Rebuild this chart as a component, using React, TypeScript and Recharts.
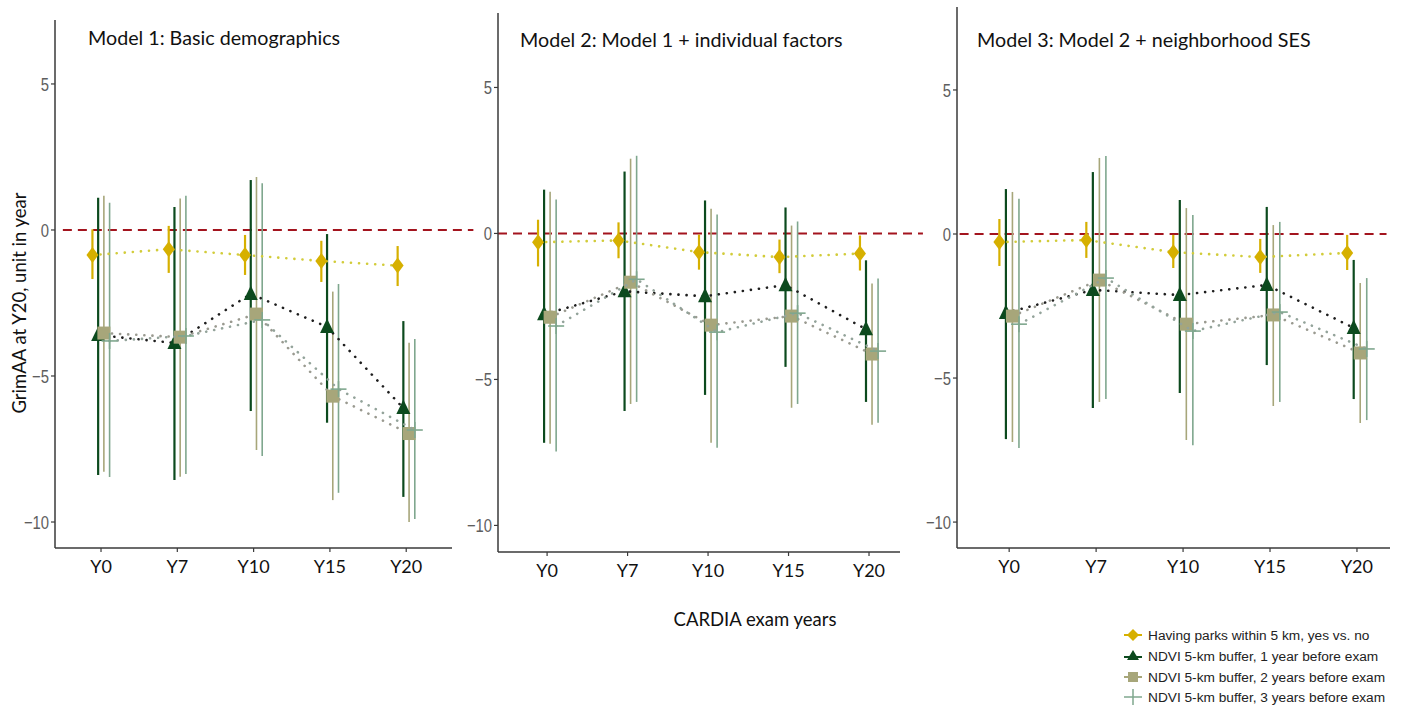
import React from 'react';
import { ComposedChart, XAxis, YAxis, Scatter, ErrorBar, ReferenceLine } from 'recharts';

// ---------- data ----------
const categories = ['Y0', 'Y7', 'Y10', 'Y15', 'Y20'];
const yTicks = [-10, -5, 0, 5];

const seriesNames = [
  'Having parks within 5 km, yes vs. no',
  'NDVI 5-km buffer, 1 year before exam',
  'NDVI 5-km buffer, 2 years before exam',
  'NDVI 5-km buffer, 3 years before exam',
];

const panelTitles = [
  'Model 1: Basic demographics',
  'Model 2: Model 1 + individual factors',
  'Model 3: Model 2 + neighborhood SES',
];

// Model 1
const m1ParksEst = [-0.86, -0.66, -0.86, -1.06, -1.22];
const m1ParksLo = [-1.68, -1.47, -1.54, -1.78, -1.92];
const m1ParksHi = [0.02, 0.14, -0.17, -0.37, -0.55];
const m1Ndvi1Est = [-3.6, -3.87, -2.19, -3.32, -6.1];
const m1Ndvi1Lo = [-8.39, -8.56, -6.2, -6.6, -9.14];
const m1Ndvi1Hi = [1.1, 0.79, 1.71, -0.14, -3.12];
const m1Ndvi2Est = [-3.53, -3.67, -2.88, -5.69, -6.97];
const m1Ndvi2Lo = [-8.28, -8.45, -7.53, -9.25, -10.0];
const m1Ndvi2Hi = [1.17, 1.08, 1.81, -2.11, -3.86];
const m1Ndvi3Est = [-3.8, -3.63, -3.08, -5.45, -6.85];
const m1Ndvi3Lo = [-8.46, -8.36, -7.74, -9.0, -9.9];
const m1Ndvi3Hi = [0.93, 1.17, 1.6, -1.85, -3.73];

// Model 2
const m2ParksEst = [-0.3, -0.24, -0.64, -0.81, -0.69];
const m2ParksLo = [-1.13, -0.85, -1.24, -1.36, -1.27];
const m2ParksHi = [0.47, 0.38, -0.04, -0.21, -0.07];
const m2Ndvi1Est = [-2.77, -1.98, -2.15, -1.77, -3.28];
const m2Ndvi1Lo = [-7.17, -6.08, -5.53, -4.57, -5.77];
const m2Ndvi1Hi = [1.5, 2.12, 1.13, 0.89, -0.92];
const m2Ndvi2Est = [-2.87, -1.67, -3.14, -2.83, -4.13];
const m2Ndvi2Lo = [-7.2, -5.84, -7.17, -5.97, -6.55];
const m2Ndvi2Hi = [1.43, 2.56, 0.85, 0.27, -1.71];
const m2Ndvi3Est = [-3.17, -1.57, -3.38, -2.73, -4.03];
const m2Ndvi3Lo = [-7.47, -5.77, -7.34, -5.84, -6.48];
const m2Ndvi3Hi = [1.16, 2.66, 0.65, 0.41, -1.54];

// Model 3
const m3ParksEst = [-0.28, -0.21, -0.63, -0.8, -0.66];
const m3ParksLo = [-1.11, -0.83, -1.18, -1.35, -1.25];
const m3ParksHi = [0.52, 0.42, -0.03, -0.17, -0.03];
const m3Ndvi1Est = [-2.74, -1.94, -2.12, -1.77, -3.26];
const m3Ndvi1Lo = [-7.12, -6.04, -5.52, -4.55, -5.73];
const m3Ndvi1Hi = [1.56, 2.15, 1.18, 0.94, -0.9];
const m3Ndvi2Est = [-2.85, -1.6, -3.13, -2.81, -4.13];
const m3Ndvi2Lo = [-7.22, -5.83, -7.15, -5.97, -6.56];
const m3Ndvi2Hi = [1.46, 2.64, 0.9, 0.31, -1.7];
const m3Ndvi3Est = [-3.13, -1.53, -3.37, -2.71, -3.99];
const m3Ndvi3Lo = [-7.43, -5.73, -7.33, -5.83, -6.46];
const m3Ndvi3Hi = [1.22, 2.71, 0.66, 0.42, -1.53];

// ---------- styles ----------
const GOLD = '#D6B000';
const DKGREEN = '#0C4A1E';
const KHAKI = '#A7A67A';
const GRGREEN = '#7FA78E';

const seriesStyle = [
  { color: GOLD, bar: 2.2, line: '#D2CC3A', shape: 'diamond' },
  { color: DKGREEN, bar: 2.2, line: '#1E1E1E', shape: 'triangle' },
  { color: KHAKI, bar: 1.6, line: '#9A9A90', shape: 'square' },
  { color: GRGREEN, bar: 1.6, line: '#93A39A', shape: 'plus' },
];
const dodge = [-0.1125, -0.0375, 0.0375, 0.1125];

const W = 1401;
const H = 705;

const panelGeom = [
  { left: 55, right: 452, top: 20, bottom: 548, xMin: 0.397, xMax: 5.6, yMin: -10.89, yMax: 7.19, redStart: 0.5, redEnd: 5.88 },
  { left: 498, right: 900, top: 13, bottom: 552, xMin: 0.39, xMax: 5.385, yMin: -10.91, yMax: 7.55, redStart: 0.39, redEnd: 5.67 },
  { left: 957, right: 1390, top: 7, bottom: 548, xMin: 0.4, xMax: 5.38, yMin: -10.9, yMax: 7.88, redStart: 0.43, redEnd: 5.34 },
];

const panelData = [
  [
    [m1ParksEst, m1ParksLo, m1ParksHi],
    [m1Ndvi1Est, m1Ndvi1Lo, m1Ndvi1Hi],
    [m1Ndvi2Est, m1Ndvi2Lo, m1Ndvi2Hi],
    [m1Ndvi3Est, m1Ndvi3Lo, m1Ndvi3Hi],
  ],
  [
    [m2ParksEst, m2ParksLo, m2ParksHi],
    [m2Ndvi1Est, m2Ndvi1Lo, m2Ndvi1Hi],
    [m2Ndvi2Est, m2Ndvi2Lo, m2Ndvi2Hi],
    [m2Ndvi3Est, m2Ndvi3Lo, m2Ndvi3Hi],
  ],
  [
    [m3ParksEst, m3ParksLo, m3ParksHi],
    [m3Ndvi1Est, m3Ndvi1Lo, m3Ndvi1Hi],
    [m3Ndvi2Est, m3Ndvi2Lo, m3Ndvi2Hi],
    [m3Ndvi3Est, m3Ndvi3Lo, m3Ndvi3Hi],
  ],
];

function buildRows(est: number[], lo: number[], hi: number[], off: number) {
  return categories.map((c, i) => ({
    x: i + 1 + off,
    y: est[i],
    err: [est[i] - lo[i], hi[i] - est[i]],
  }));
}

function makeShape(kind: string, color: string) {
  return (props: any) => {
    const { cx, cy } = props;
    if (cx == null || cy == null) return <g />;
    if (kind === 'diamond') {
      return <path d={`M${cx},${cy - 8} L${cx + 6},${cy} L${cx},${cy + 8} L${cx - 6},${cy} Z`} fill={color} />;
    }
    if (kind === 'triangle') {
      return <path d={`M${cx},${cy - 8.5} L${cx + 7},${cy + 6} L${cx - 7},${cy + 6} Z`} fill={color} />;
    }
    if (kind === 'square') {
      return <rect x={cx - 6.5} y={cy - 6.5} width={13} height={13} fill={color} />;
    }
    return (
      <g stroke={color} strokeWidth={1.6}>
        <line x1={cx - 8} y1={cy} x2={cx + 8} y2={cy} />
        <line x1={cx} y1={cy - 8} x2={cx} y2={cy + 8} />
      </g>
    );
  };
}

// narrow grey y tick label (condensed look)
function YTick(props: any) {
  const { x, y, payload } = props;
  const v = payload?.value;
  const label = v < 0 ? '\u2212' + Math.abs(v) : String(v);
  return (
    <g transform={`translate(${x},${y})`}>
      <text
        transform="scale(0.78,1)"
        x={0}
        y={0}
        dy="0.36em"
        textAnchor="end"
        fill="#5e5e5e"
        fontSize={19}
        fontFamily='"Liberation Sans", Arial, sans-serif'
      >
        {label}
      </text>
    </g>
  );
}

const Y_AXIS_W = 50;
const X_AXIS_H = 40;

function Panel({ idx }: { idx: number }) {
  const g = panelGeom[idx];
  const margin = {
    top: g.top,
    left: g.left - Y_AXIS_W,
    right: W - g.right,
    bottom: H - g.bottom - X_AXIS_H,
  };
  return (
    <div style={{ position: 'absolute', left: 0, top: 0 }}>
      <ComposedChart width={W} height={H} margin={margin}>
        <XAxis
          type="number"
          dataKey="x"
          domain={[g.xMin, g.xMax]}
          allowDataOverflow
          ticks={[1, 2, 3, 4, 5]}
          tickFormatter={(v: number) => categories[Math.round(v) - 1] ?? ''}
          height={X_AXIS_H}
          stroke="#3a3a3a"
          axisLine={{ stroke: '#3a3a3a', strokeWidth: 1.5 }}
          tickLine={{ stroke: '#3a3a3a', strokeWidth: 1.2 }}
          tickSize={4}
          tickMargin={8}
          tick={{ fill: '#111', fontSize: 18, fontFamily: 'Lato, "Open Sans", sans-serif' }}
        />
        <YAxis
          type="number"
          dataKey="y"
          domain={[g.yMin, g.yMax]}
          allowDataOverflow
          ticks={yTicks}
          width={Y_AXIS_W}
          axisLine={{ stroke: '#3a3a3a', strokeWidth: 1.5 }}
          tickLine={{ stroke: '#3a3a3a', strokeWidth: 1.2 }}
          tickSize={4}
          tickMargin={2}
          tick={<YTick />}
        />
        <ReferenceLine
          segment={[{ x: g.redStart, y: 0 }, { x: g.redEnd, y: 0 }]}
          stroke="#A3141E"
          strokeWidth={2}
          strokeDasharray="9 6"
          ifOverflow="visible"
        />
        {panelData[idx].map((s, si) => {
          const st = seriesStyle[si];
          return (
            <Scatter
              key={si}
              name={seriesNames[si]}
              data={buildRows(s[0], s[1], s[2], dodge[si])}
              fill={st.color}
              isAnimationActive={false}
              line={{ stroke: st.line, strokeWidth: 2.6, strokeDasharray: '0.1 8', strokeLinecap: 'round' }}
              lineType="joint"
              shape={makeShape(st.shape, st.color)}
            >
              <ErrorBar
                dataKey="err"
                direction="y"
                width={0}
                stroke={st.color}
                strokeWidth={st.bar}
                isAnimationActive={false}
              />
            </Scatter>
          );
        })}
      </ComposedChart>
    </div>
  );
}

const titleFont = 'Lato, "Open Sans", sans-serif';
const titlePos = [
  { x: 88, y: 45 },
  { x: 520, y: 47 },
  { x: 977, y: 47 },
];

function LegendSymbol({ kind, color, x, y }: { kind: string; color: string; x: number; y: number }) {
  if (kind === 'diamond') {
    return (
      <g>
        <line x1={x - 9} y1={y} x2={x + 9} y2={y} stroke={color} strokeWidth={2} />
        <path d={`M${x},${y - 6} L${x + 6},${y} L${x},${y + 6} L${x - 6},${y} Z`} fill={color} />
      </g>
    );
  }
  if (kind === 'triangle') {
    return (
      <g>
        <line x1={x - 9} y1={y + 1} x2={x + 9} y2={y + 1} stroke={color} strokeWidth={2} />
        <path d={`M${x},${y - 6} L${x + 6},${y + 4} L${x - 6},${y + 4} Z`} fill={color} />
      </g>
    );
  }
  if (kind === 'square') {
    return (
      <g>
        <line x1={x - 9} y1={y} x2={x + 9} y2={y} stroke={color} strokeWidth={2} />
        <rect x={x - 5} y={y - 5} width={10} height={10} fill={color} />
      </g>
    );
  }
  return (
    <g stroke={color} strokeWidth={1.5}>
      <line x1={x - 9} y1={y} x2={x + 9} y2={y} />
      <line x1={x} y1={y - 8} x2={x} y2={y + 8} />
    </g>
  );
}

function Overlay() {
  const legendY = [635, 656, 677, 697];
  return (
    <svg width={W} height={H} style={{ position: 'absolute', left: 0, top: 0, pointerEvents: 'none' }}>
      {panelTitles.map((t, i) => (
        <text key={i} x={titlePos[i].x} y={titlePos[i].y} fontFamily={titleFont} fontSize={19.7} fill="#111">
          {t}
        </text>
      ))}
      <text
        x={0}
        y={0}
        transform="translate(26,303) rotate(-90)"
        textAnchor="middle"
        fontFamily={titleFont}
        fontSize={18.5}
        fill="#111"
      >
        GrimAA at Y20, unit in year
      </text>
      <text x={755} y={626} textAnchor="middle" fontFamily={titleFont} fontSize={18.5} fill="#111">
        CARDIA exam years
      </text>
      {seriesNames.map((n, i) => (
        <g key={i}>
          <LegendSymbol kind={seriesStyle[i].shape} color={seriesStyle[i].color} x={1133} y={legendY[i]} />
          <text
            x={1148}
            y={legendY[i] + 5}
            fontFamily='"Liberation Sans", Arial, sans-serif'
            fontSize={13.7}
            fill="#222"
          >
            {n}
          </text>
        </g>
      ))}
    </svg>
  );
}

export default function App() {
  return (
    <div style={{ position: 'absolute', left: 0, top: 0, width: W, height: H, background: '#fff' }}>
      <Panel idx={0} />
      <Panel idx={1} />
      <Panel idx={2} />
      <Overlay />
    </div>
  );
}
